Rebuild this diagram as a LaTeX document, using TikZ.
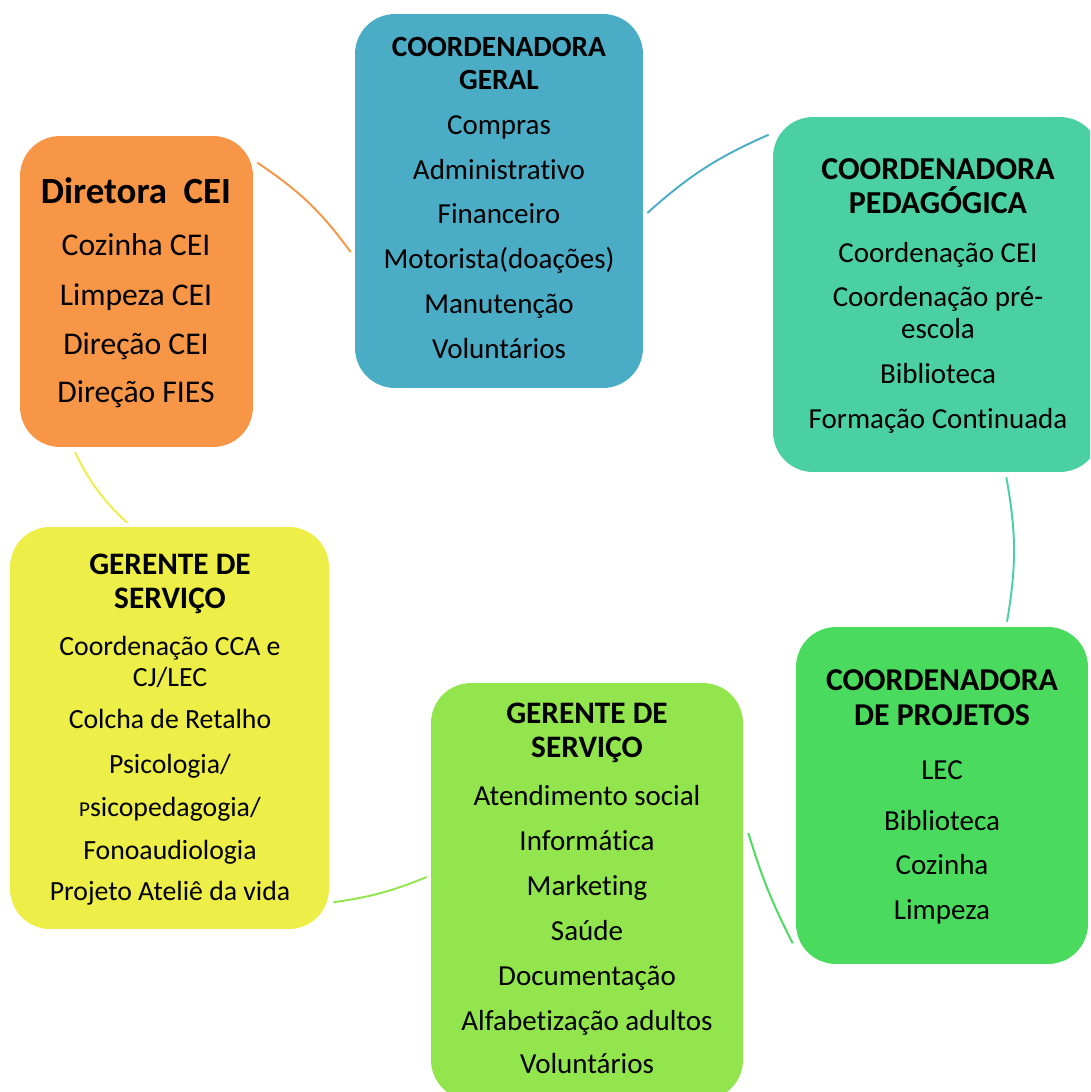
\documentclass[tikz,border=0pt]{standalone}
\usepackage{fontspec}
\setmainfont[Ligatures=NoCommon]{Carlito}
\usepackage{tikz}
\usetikzlibrary{calc}
\definecolor{diretora}{RGB}{247,150,70}
\definecolor{geral}{RGB}{75,172,198}
\definecolor{pedag}{RGB}{75,208,163}
\definecolor{projetos}{RGB}{74,219,94}
\definecolor{servico}{RGB}{146,229,76}
\definecolor{gerente}{RGB}{238,238,72}

\begin{document}
\begin{tikzpicture}[
  x=0.02cm,y=-0.02cm,
  box/.style={rounded corners=0.8cm,inner sep=0pt},
  head/.style={font=\bfseries\fontsize{#1}{#1}\selectfont,inner sep=0pt,text height=13pt,text depth=2pt},
  item/.style={font=\fontsize{#1}{#1}\selectfont,inner sep=0pt,text height=13pt,text depth=2pt},
  link/.style={draw=#1,line width=1.1pt},
]
\useasboundingbox (0,0) rectangle (1090,1092);
\clip (0,0) rectangle (1090,1092);

% caixas
\node[box,fill=diretora,minimum width=4.66cm,minimum height=6.22cm] (diretora) at (136.5,291.5) {};
\node[box,fill=geral,minimum width=5.76cm,minimum height=7.48cm] (geral) at (499,201) {};
\node[box,fill=pedag,minimum width=6.54cm,minimum height=7.10cm] (pedag) at (936.5,294.5) {};
\node[box,fill=projetos,minimum width=5.84cm,minimum height=6.74cm] (projetos) at (942,795.5) {};
\node[box,fill=servico,minimum width=6.24cm,minimum height=8.34cm] (servico) at (587,891.5) {};
\node[box,fill=gerente,minimum width=6.38cm,minimum height=8.04cm] (gerente) at (169.5,728) {};

% Diretora
\node[head=21] (diretora-h) at (136,194) {Diretora\ \ CEI};
\foreach \t/\y [count=\i] in {Cozinha CEI/246,Limpeza CEI/296,Direção CEI/345,Direção FIES/393}
  \node[item=18] (diretora-\i) at (136,\y) {\t};

% Coordenadora geral
\foreach \t/\y [count=\i] in {COORDENADORA/47,GERAL/80}
  \node[head=16.7] (geral-h\i) at (499,\y) {\t};
\foreach \t/\y [count=\i] in {Compras/125,Administrativo/170,Financeiro/214,Motorista(doações)/259,Manutenção/304,Voluntários/349}
  \node[item=16.5] (geral-\i) at (499,\y) {\t};

% Coordenadora pedagogica
\foreach \t/\y [count=\i] in {COORDENADORA/170,PEDAGÓGICA/204}
  \node[head=18.2] (pedag-h\i) at (938,\y) {\t};
\foreach \t/\y [count=\i] in {Coordenação CEI/253,Coordenação pré-/297,escola/329,Biblioteca/374,Formação Continuada/419}
  \node[item=16.5] (pedag-\i) at (938,\y) {\t};

% Coordenadora de projetos
\foreach \t/\y [count=\i] in {COORDENADORA/681,DE PROJETOS/716}
  \node[head=18.1] (projetos-h\i) at (942,\y) {\t};
\foreach \t/\y [count=\i] in {LEC/770,Biblioteca/821,Cozinha/865,Limpeza/910}
  \node[item=16.5] (projetos-\i) at (942,\y) {\t};

% Gerente de servico (centro)
\foreach \t/\y [count=\i] in {GERENTE DE/714,SERVIÇO/748}
  \node[head=17.8] (servico-h\i) at (587,\y) {\t};
\foreach \t/\y [count=\i] in {Atendimento social/796,Informática/841,Marketing/886,Saúde/931,Documentação/976,Alfabetização adultos/1021,Voluntários/1064}
  \node[item=16.5] (servico-\i) at (587,\y) {\t};

% Gerente de servico (esquerda)
\foreach \t/\y [count=\i] in {GERENTE DE/565,SERVIÇO/599}
  \node[head=17.8] (gerente-h\i) at (170,\y) {\t};
\foreach \t/\y [count=\i] in {Coordenação CCA e/646,{CJ/LEC}/677,Colcha de Retalho/719,{Psicologia/}/764,{{\fontsize{12}{12}\selectfont P}sicopedagogia/}/807,Fonoaudiologia/850,Projeto Ateliê da vida/891}
  \node[item=15.8] (gerente-\i) at (170,\y) {\t};

% ligacoes
\draw[link=diretora] ($(diretora.north east)+(4,27)$) to[bend left=10] ($(geral.west)+(-4,51)$);
\draw[link=geral] ($(geral.east)+(4,12)$) to[bend left=9] ($(pedag.north west)+(-4,18)$);
\draw[link=pedag] ($(pedag.south east)+(-94,5)$) to[bend left=10] ($(projetos.north)+(65,-5)$);
\draw[link=projetos] ($(projetos.south west)+(-3,-21)$) to[bend left=5] ($(servico.east)+(5,-58.5)$);
\draw[link=servico] ($(servico.west)+(-4,-14.5)$) to[bend left=7] ($(gerente.south east)+(4,-27)$);
\draw[link=gerente] ($(gerente.north)+(-42.5,-4)$) to[bend left=10] ($(diretora.south)+(-61.5,5)$);
\end{tikzpicture}
\end{document}
